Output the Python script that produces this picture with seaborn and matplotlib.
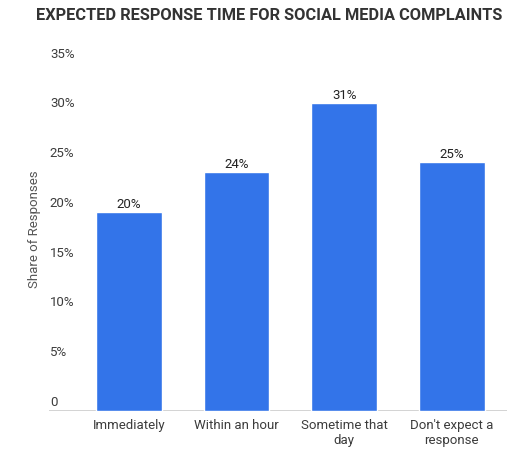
import matplotlib
matplotlib.use("Agg")
import matplotlib.pyplot as plt
import matplotlib.transforms as mtransforms
import seaborn as sns
import pandas as pd

categories = ["Immediately", "Within an hour", "Sometime that\nday", "Don't expect a\nresponse"]
shares = [20, 24, 31, 25]
y_ticks = [0, 5, 10, 15, 20, 25, 30, 35]
y_tick_labels = ["0", "5%", "10%", "15%", "20%", "25%", "30%", "35%"]

sns.set_style("white")
plt.rcParams["font.family"] = ["Roboto", "DejaVu Sans"]

df = pd.DataFrame({"category": categories, "share": shares})

fig = plt.figure(figsize=(5.29, 4.56), dpi=100)
ax = fig.add_axes([0.0926, 0.0965, 0.8654, 0.7635])
sns.barplot(data=df, x="category", y="share", color="#3374E9", width=0.61,
            saturation=1, ax=ax)

ax.set_xlim(-0.74, 3.51)
ax.set_ylim(0, 35)
sns.despine(ax=ax, left=True, top=True, right=True, bottom=True)
ax.axhline(0, color="#cccccc", lw=1.2, zorder=0)

# y tick labels sit above their values, inside the plot area
ax.set_yticks([])
trans = mtransforms.blended_transform_factory(ax.transAxes, ax.transData)
for v, lab in zip(y_ticks, y_tick_labels):
    ax.annotate(lab, (0.002, v), xycoords=trans, xytext=(0, 7),
                textcoords="offset points", ha="left", va="center",
                fontsize=9.5, color="#3c3c3c")

ax.tick_params(axis="x", length=0, pad=5, labelsize=9.5, labelcolor="#3c3c3c")
for t in ax.get_xticklabels():
    t.set_linespacing(1.2)
ax.set_xlabel("")
ax.set_ylabel("")
fig.text(0.066, 0.497, "Share of Responses", rotation=90, ha="center", va="center",
         fontsize=9.5, color="#555555")

for i, v in enumerate(shares):
    ax.annotate(f"{v}%", (i, v), xytext=(0, 6), textcoords="offset points",
                ha="center", va="center", fontsize=9.5, color="#222222")

fig.text(0.508, 0.965, "EXPECTED RESPONSE TIME FOR SOCIAL MEDIA COMPLAINTS",
         ha="center", va="center", fontsize=11.8, fontweight="bold", color="#333333")

fig.savefig("out.png", dpi=100)
